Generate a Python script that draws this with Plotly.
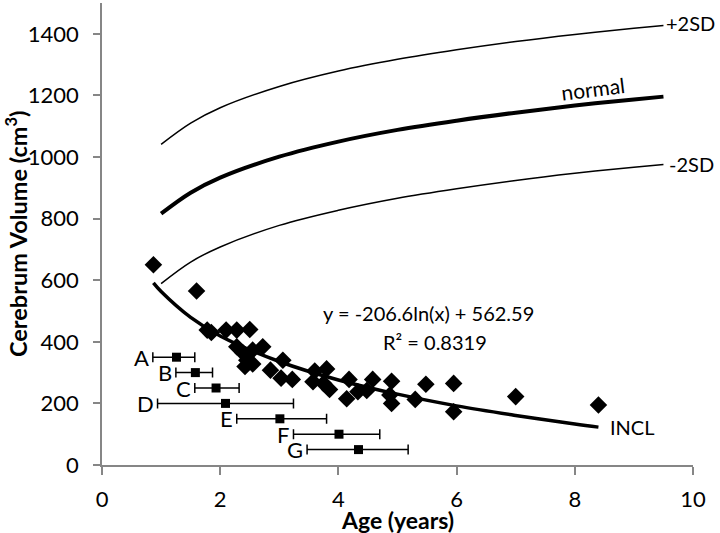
import plotly.graph_objects as go

# INCL patients (age in years, cerebrum volume in cm3)
age = [0.87, 1.60, 1.78, 1.85, 2.10, 2.28, 2.50, 2.28, 2.38, 2.55, 2.72, 2.45, 2.55, 2.42,
       2.85, 3.06, 3.03, 3.22, 3.60, 3.80, 3.57, 3.75, 3.85, 4.18, 4.14, 4.33, 4.48, 4.58,
       4.90, 4.87, 4.90, 5.30, 5.48, 5.95, 5.95, 7.00, 8.40]
volume = [650, 565, 438, 430, 438, 438, 440, 384, 365, 373, 384, 340, 328, 320,
          308, 340, 282, 278, 305, 312, 270, 265, 245, 278, 215, 238, 242, 278,
          272, 227, 200, 213, 262, 265, 173, 222, 195]

# logarithmic trend line (INCL)
trend_age = [0.87, 1.0, 1.5, 2.0, 3.0, 4.0, 5.0, 6.0, 7.0, 8.0, 8.4]
trend_vol = [591, 563, 479, 419, 336, 276, 230, 192, 161, 133, 123]

# normal reference curves
ref_age = [1.0, 1.5, 2.0, 3.0, 4.0, 5.0, 6.0, 7.0, 8.0, 9.0, 9.5]
plus2sd = [1041, 1110, 1160, 1229, 1279, 1317, 1348, 1375, 1398, 1418, 1427]
normal = [816, 884, 933, 1001, 1050, 1088, 1118, 1144, 1167, 1187, 1196]
minus2sd = [589, 659, 708, 778, 827, 866, 897, 924, 947, 967, 976]

# labelled cases with age ranges
case_labels = ["A", "B", "C", "D", "E", "F", "G"]
case_age = [1.26, 1.58, 1.93, 2.09, 3.01, 4.01, 4.34]
case_vol = [350, 300, 250, 200, 150, 100, 50]
case_min = [0.86, 1.25, 1.57, 0.94, 2.28, 3.24, 3.47]
case_max = [1.57, 1.87, 2.32, 3.24, 3.80, 4.70, 5.18]

x_ticks = [0, 2, 4, 6, 8, 10]
y_ticks = [0, 200, 400, 600, 800, 1000, 1200, 1400]

FONT = "Lato, 'Open Sans', sans-serif"
AX = "#868686"

fig = go.Figure()

fig.add_trace(go.Scatter(x=ref_age, y=plus2sd, mode="lines", line=dict(color="black", width=1.5, shape="spline")))
fig.add_trace(go.Scatter(x=ref_age, y=normal, mode="lines", line=dict(color="black", width=4, shape="spline")))
fig.add_trace(go.Scatter(x=ref_age, y=minus2sd, mode="lines", line=dict(color="black", width=1.5, shape="spline")))
fig.add_trace(go.Scatter(x=trend_age, y=trend_vol, mode="lines", line=dict(color="black", width=3.5, shape="spline")))
fig.add_trace(go.Scatter(x=age, y=volume, mode="markers",
                         marker=dict(symbol="diamond", size=13.5, color="black")))
fig.add_trace(go.Scatter(
    x=case_age, y=case_vol, mode="markers",
    marker=dict(symbol="square", size=9, color="black"),
    error_x=dict(type="data", symmetric=False,
                 array=[mx - a for mx, a in zip(case_max, case_age)],
                 arrayminus=[a - mn for mn, a in zip(case_min, case_age)],
                 color="black", thickness=1.5, width=5)))

annotations = []
for lab, mn, v in zip(case_labels, case_min, case_vol):
    annotations.append(dict(x=mn, y=v, text=lab, showarrow=False, xanchor="right", xshift=-2,
                            font=dict(size=22, color="black", family=FONT)))

annotations += [
    dict(x=ref_age[-1], y=plus2sd[-1], text="+2SD", showarrow=False, xanchor="left", xshift=1, yshift=2,
         font=dict(size=20, color="black", family=FONT)),
    dict(x=ref_age[-1], y=minus2sd[-1], text="-2SD", showarrow=False, xanchor="left", xshift=4,
         font=dict(size=20, color="black", family=FONT)),
    dict(x=8.3, y=1222, text="normal", showarrow=False, textangle=-7,
         font=dict(size=21, color="black", family=FONT)),
    dict(x=trend_age[-1], y=trend_vol[-1], text="INCL", showarrow=False, xanchor="left", xshift=10,
         font=dict(size=20, color="black", family=FONT)),
    dict(x=5.53, y=494, text="y = -206.6ln(x) + 562.59", showarrow=False,
         font=dict(size=20, color="black", family=FONT)),
    dict(x=5.63, y=400, text="R² = 0.8319", showarrow=False,
         font=dict(size=20, color="black", family=FONT)),
    # axis titles
    dict(xref="paper", yref="paper", x=0.5, y=-0.119, text="<b>Age (years)</b>", showarrow=False,
         xanchor="center", yanchor="middle", font=dict(size=23, color="black", family=FONT)),
    dict(xref="paper", yref="paper", x=-0.1455, y=0.5, text="<b>Cerebrum Volume (cm<sup>3</sup>)</b>",
         showarrow=False, textangle=-90, xanchor="center", yanchor="middle",
         font=dict(size=23.5, color="black", family=FONT)),
]

fig.update_layout(
    width=720, height=533,
    margin=dict(l=102, r=27, t=3, b=68),
    paper_bgcolor="white", plot_bgcolor="white",
    showlegend=False,
    font=dict(family=FONT, color="black", size=22),
    annotations=annotations,
    xaxis=dict(range=[0, 10], tickvals=x_ticks, ticks="outside", ticklen=8, tickcolor=AX,
               tickwidth=1.5, showline=True, linecolor=AX, linewidth=1.5, showgrid=False,
               zeroline=False, ticklabelstandoff=6, automargin=False),
    yaxis=dict(range=[0, 1500], tickvals=y_ticks, ticks="outside", ticklen=7, tickcolor=AX,
               tickwidth=1.5, showline=True, linecolor=AX, linewidth=1.5, showgrid=False,
               zeroline=False, ticklabelstandoff=10, automargin=False),
)

fig.write_html("out.html", config={"displayModeBar": False},
               post_script="document.body.style.margin='0';document.body.style.padding='0';")
